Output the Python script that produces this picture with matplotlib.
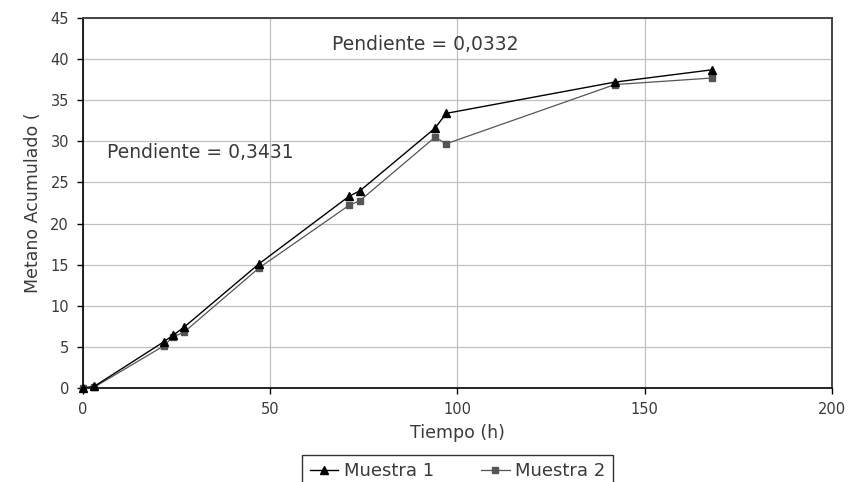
import matplotlib
matplotlib.use("Agg")
import matplotlib.pyplot as plt

# Tiempo (h)
tiempo = [0, 3, 21.5, 24, 27, 47, 71, 74, 94, 97, 142, 168]
# Metano acumulado
muestra_1 = [0, 0.2, 5.6, 6.4, 7.4, 15.1, 23.3, 24.0, 31.6, 33.4, 37.2, 38.7]
muestra_2 = [0, 0.1, 5.1, 6.2, 6.8, 14.6, 22.2, 22.8, 30.5, 29.7, 36.9, 37.7]

x_ticks = [0, 50, 100, 150, 200]
y_ticks = list(range(0, 50, 5))

plt.rcParams["font.family"] = ["DejaVu Sans"]
text_color = "#3a3a3a"

fig = plt.figure(figsize=(8.6, 4.82), dpi=100)
ax = fig.add_axes([0.0965, 0.195, 0.8709, 0.7677])

ax.plot(tiempo, muestra_1, color="black", linewidth=1.0, marker="^",
        markersize=6, markerfacecolor="black", markeredgecolor="black",
        label="Muestra 1", clip_on=False, zorder=4)
ax.plot(tiempo, muestra_2, color="#555555", linewidth=0.9, marker="s",
        markersize=5, markerfacecolor="#555555", markeredgecolor="#555555",
        label="Muestra 2", clip_on=False, zorder=3)

ax.set_xlim(0, 200)
ax.set_ylim(0, 45)
ax.set_xticks(x_ticks)
ax.set_yticks(y_ticks)
ax.grid(True, color="#c0c0c0", linewidth=0.9)
ax.set_axisbelow(True)

for side in ["left", "bottom"]:
    ax.spines[side].set_color("black")
    ax.spines[side].set_linewidth(1.2)
for side in ["top", "right"]:
    ax.spines[side].set_color("#444444")
    ax.spines[side].set_linewidth(1.4)

ax.tick_params(axis="both", direction="out", length=4, width=1, color="black",
               labelsize=10.5, labelcolor=text_color, pad=6)

ax.set_xlabel("Tiempo (h)", fontsize=12.5, color=text_color, labelpad=5)
ax.set_ylabel("Metano Acumulado (", fontsize=12.5, color=text_color, labelpad=6)

ax.text(66.5, 41.8, "Pendiente = 0,0332", fontsize=13.5, color=text_color,
        va="center", ha="left")
ax.text(6.5, 28.6, "Pendiente = 0,3431", fontsize=13.5, color=text_color,
        va="center", ha="left")

leg = ax.legend(loc="upper center", bbox_to_anchor=(0.5, -0.181), ncol=2,
                frameon=True, fancybox=False, edgecolor="black", fontsize=13,
                handlelength=1.6, handletextpad=0.3, columnspacing=2.6,
                borderpad=0.4, borderaxespad=0, labelcolor=text_color)
leg.get_frame().set_linewidth(1.0)

fig.savefig("out.png", dpi=100)
